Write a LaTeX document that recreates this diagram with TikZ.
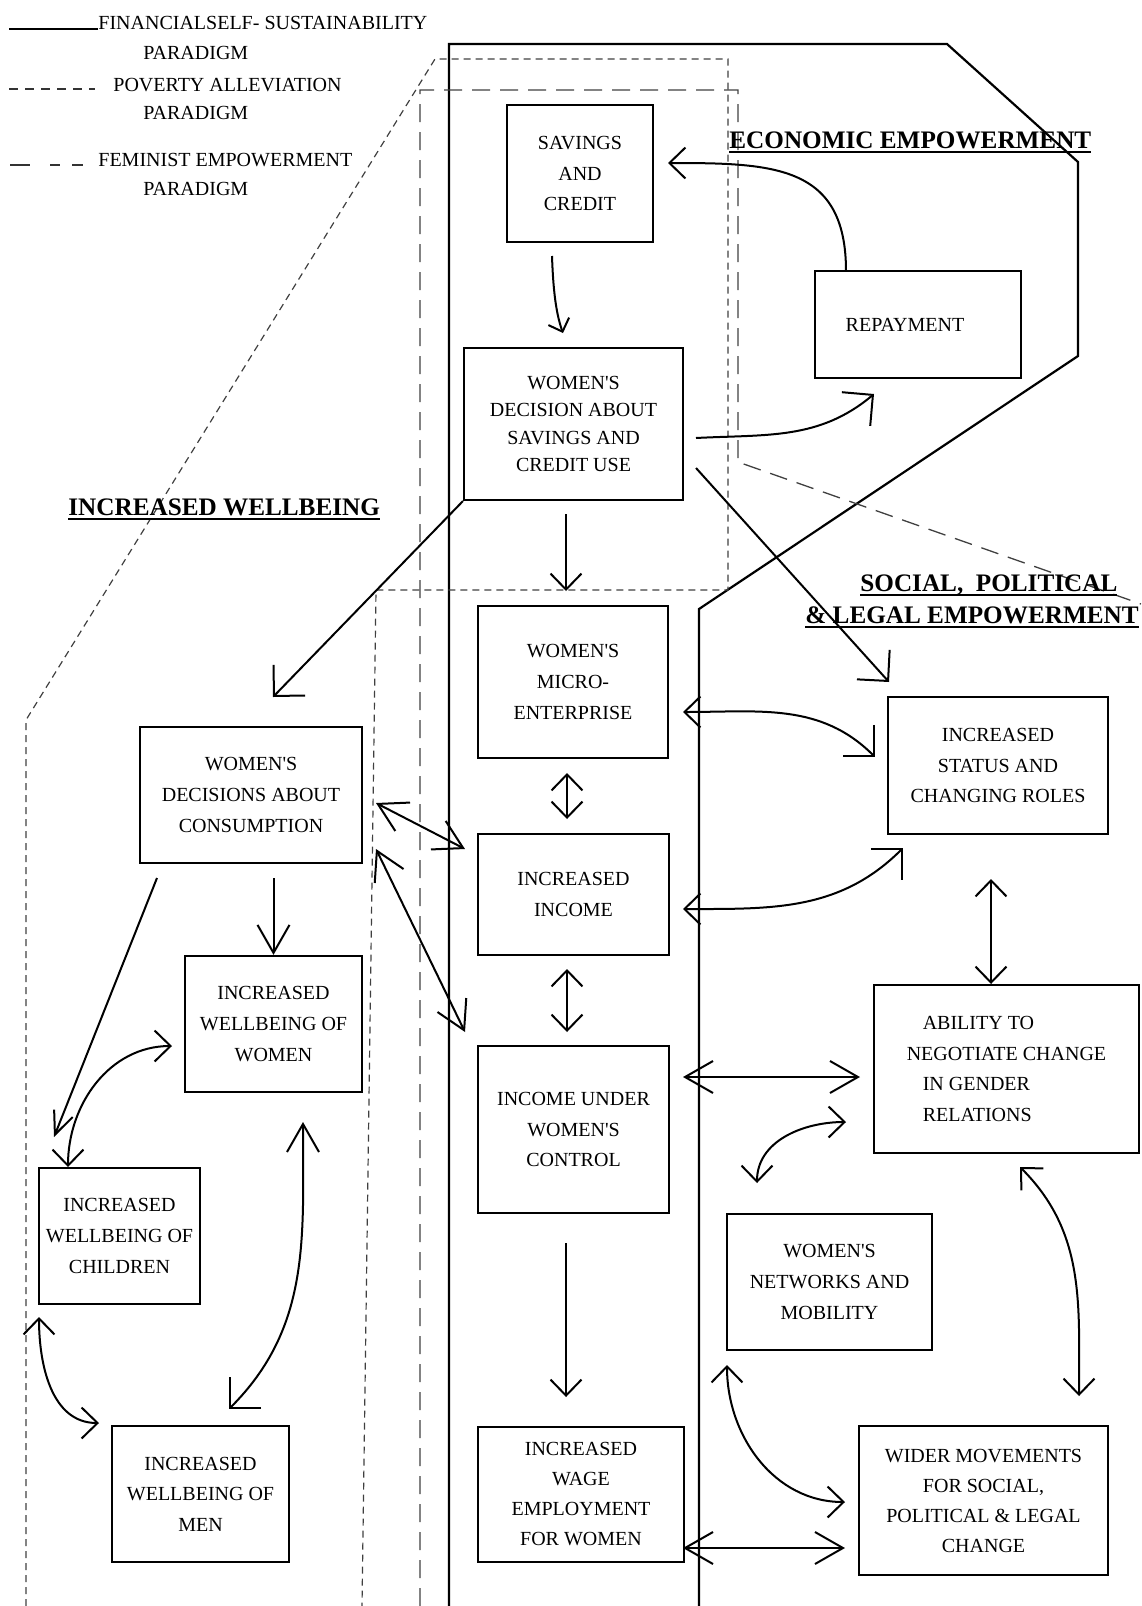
\documentclass[tikz,border=0pt]{standalone}
\usepackage{fontspec}
\setmainfont{Liberation Serif}
\newfontfamily\pf{Liberation Serif}
\usetikzlibrary{arrows.meta}
\newcommand\hul[1]{\setbox0\hbox{#1}\rlap{\rule[-2.7pt]{\wd0}{1.25pt}}\box0}
\tikzset{
  hS/.tip={Straight Barb[length=8pt,width=15.5pt]},
  hT/.tip={Straight Barb[length=5.5pt,width=11pt]},
  hB/.tip={Straight Barb[length=11pt,width=22pt]},
  hH/.tip={Straight Barb[length=14pt,width=16pt]},
  hN/.tip={Straight Barb[length=11.5pt,width=10pt]},
  box/.style={draw,line width=1.1pt,align=center,inner sep=0pt,font=\pf\fontsize{10}{15.3}\selectfont},
  txt/.style={inner sep=0pt,anchor=base west,font=\pf\fontsize{10}{12}\selectfont},
  head/.style={inner sep=0pt,anchor=base west,font=\pf\fontsize{12.6}{15}\selectfont\bfseries},
  con/.style={line width=1pt},
  fin/.style={line width=1.1pt},
  pov/.style={line width=0.6pt,draw=black!75,dash pattern=on 3.5pt off 2.5pt},
  fem/.style={line width=0.65pt,draw=black!75,dash pattern=on 9pt off 5pt},
}
\begin{document}
\begin{tikzpicture}[x=0.5pt,y=0.5pt]
\useasboundingbox (0,0) rectangle (1141,-1606);

% ---------- legend ----------
\node[txt] (l1) at (98,-29) {FINANCIALSELF- SUSTAINABILITY};
\node[txt] (l1b) at (143,-59) {PARADIGM};
\node[txt] (l2) at (113,-91) {POVERTY ALLEVIATION};
\node[txt] (l2b) at (143,-119) {PARADIGM};
\node[txt] (l3) at (98,-166) {FEMINIST EMPOWERMENT};
\node[txt] (l3b) at (143,-195) {PARADIGM};
\coordinate (g1a) at (9,-29);  \coordinate (g1b) at (98,-29);
\coordinate (g2a) at (9,-89);  \coordinate (g2b) at (95,-89);
\coordinate (g3a) at (10,-165); \coordinate (g3b) at (83,-165);
\draw[con] (g1a) -- (g1b);
\draw[line width=0.65pt,draw=black!80,dash pattern=on 4.5pt off 3.5pt] (g2a) -- (g2b);
\draw[line width=0.65pt,draw=black!80,dash pattern=on 10pt off 10pt on 5pt off 6pt on 5.5pt off 20pt] (g3a) -- (g3b);

% ---------- paradigm outlines ----------
\draw[fin] (449,-1606) -- (449,-44) -- (947,-44) -- (1078,-162) -- (1078,-356) -- (699,-609) -- (699,-1606);
\draw[pov] (26,-1606) -- (26,-720) -- (435,-59) -- (728,-59) -- (728,-590) -- (376,-590) -- (362,-1606);
\draw[fem] (420,-1606) -- (420,-90) -- (738,-90) -- (738,-462) -- (1141,-604);

% ---------- headings ----------
\node[head] (h1) at (729,-148) {\hul{ECONOMIC EMPOWERMENT}};
\node[head] (h2) at (68,-515) {\hul{INCREASED WELLBEING}};
\node[head] (h3) at (860,-591) {\hul{SOCIAL,\ \ POLITICAL}};
\node[head] (h4) at (805,-623) {\hul{\& LEGAL EMPOWERMENT}};

% ---------- boxes ----------
\node[box,minimum width=73pt,minimum height=68.5pt] (sav) at (580,-173.5) {SAVINGS\\AND\\CREDIT};
\node[box,minimum width=103pt,minimum height=53.5pt] (rep) at (918,-324.5) {REPAYMENT\kern13pt};
\node[box,minimum width=109.5pt,minimum height=76pt,font=\pf\fontsize{10}{13.8}\selectfont] (dec) at (573.5,-424) {WOMEN'S\\DECISION ABOUT\\SAVINGS AND\\CREDIT USE};
\node[box,minimum width=95pt,minimum height=76pt] (mic) at (573,-682) {WOMEN'S\\MICRO-\\ENTERPRISE};
\node[box,minimum width=95.5pt,minimum height=60.5pt] (inc) at (573.5,-894.5) {INCREASED\\INCOME};
\node[box,minimum width=95.5pt,minimum height=83.5pt] (iuc) at (573.5,-1129.5) {INCOME UNDER\\WOMEN'S\\CONTROL};
\node[box,minimum width=103pt,minimum height=67.5pt,font=\pf\fontsize{10}{15}\selectfont] (wag) at (581,-1494.5) {INCREASED\\WAGE\\EMPLOYMENT\\FOR WOMEN};
\node[box,minimum width=111pt,minimum height=68pt] (con) at (251,-795) {WOMEN'S\\DECISIONS ABOUT\\CONSUMPTION};
\node[box,minimum width=88.5pt,minimum height=68pt] (wom) at (273.5,-1024) {INCREASED\\WELLBEING OF\\WOMEN};
\node[box,minimum width=80.5pt,minimum height=68pt] (chi) at (119.5,-1236) {INCREASED\\WELLBEING OF\\CHILDREN};
\node[box,minimum width=88.5pt,minimum height=68pt] (men) at (200.5,-1494) {INCREASED\\WELLBEING OF\\MEN};
\node[box,minimum width=110pt,minimum height=68.5pt] (sta) at (998,-765.5) {INCREASED\\STATUS AND\\CHANGING ROLES};
\node[box,minimum width=132.5pt,minimum height=84pt,align=left,font=\pf\fontsize{10}{15.2}\selectfont] (abi) at (1006.5,-1069) {\hspace*{8pt}ABILITY TO\\NEGOTIATE CHANGE\\\hspace*{8pt}IN GENDER\\\hspace*{8pt}RELATIONS};
\node[box,minimum width=102.5pt,minimum height=68pt] (net) at (829.5,-1282) {WOMEN'S\\NETWORKS AND\\MOBILITY};
\node[box,minimum width=124.5pt,minimum height=74.5pt,font=\pf\fontsize{10}{15}\selectfont] (wid) at (983.5,-1500.5) {WIDER MOVEMENTS\\FOR SOCIAL,\\POLITICAL \& LEGAL\\CHANGE};

% ---------- connector end points ----------
\coordinate (a1s) at (846,-271);  \coordinate (a1e) at (668,-163);
\coordinate (a2s) at (552,-256);  \coordinate (a2e) at (563,-333);
\coordinate (a3s) at (696,-438);  \coordinate (a3e) at (874,-394);
\coordinate (a4s) at (566,-514);  \coordinate (a4e) at (566,-591);
\coordinate (a5e) at (273,-697);
\coordinate (a6s) at (696,-468);  \coordinate (a6e) at (889,-682);
\coordinate (a7s) at (683,-712);  \coordinate (a7e) at (875,-757);
\coordinate (a8s) at (683,-909);  \coordinate (a8e) at (903,-848);
\coordinate (a9s) at (567,-773);  \coordinate (a9e) at (567,-819);
\coordinate (a10s) at (567,-969); \coordinate (a10e) at (567,-1032);
\coordinate (a11s) at (376,-803); \coordinate (a11e) at (465,-849);
\coordinate (a12s) at (376,-849); \coordinate (a12e) at (465,-1032);
\coordinate (a13s) at (273.5,-878);
\coordinate (a14s) at (157,-878); \coordinate (a14e) at (54,-1137);
\coordinate (a15s) at (68,-1167); \coordinate (a15e) at (172,-1046);
\coordinate (a16s) at (303,-1122); \coordinate (a16e) at (229,-1409);
\coordinate (a17s) at (39,-1317); \coordinate (a17e) at (99,-1423);
\coordinate (a18s) at (566,-1243); \coordinate (a18e) at (566,-1397);
\coordinate (a19s) at (683,-1548); \coordinate (a19e) at (845,-1548);
\coordinate (a20s) at (727,-1365); \coordinate (a20e) at (845,-1502);
\coordinate (a21s) at (757,-1183); \coordinate (a21e) at (846,-1122);
\coordinate (a22s) at (683,-1077); \coordinate (a22e) at (860,-1077);
\coordinate (a23s) at (991,-879);  \coordinate (a23e) at (991,-984);
\coordinate (a24s) at (1020,-1167); \coordinate (a24e) at (1079,-1396);

% ---------- connectors ----------
\draw[con,-hS] (a1s) to[out=90,in=0,looseness=1.3] (a1e);
\draw[con,-hT] (a2s) to[out=-88,in=110,looseness=0.8] (a2e);
\draw[con,-hB] (a3s) to[out=3,in=220] (a3e);
\draw[con,-hS] (a4s) -- (a4e);
\draw[con,-hB] (dec.south west) -- (a5e);
\draw[con,-hB] (a6s) -- (a6e);
\draw[con,hS-hB] (a7s) to[out=0,in=135] (a7e);
\draw[con,hS-hB] (a8s) to[out=0,in=225] (a8e);
\draw[con,hS-hS] (a9s) -- (a9e);
\draw[con,hS-hS] (a10s) -- (a10e);
\draw[con,hH-hH] (a11s) -- (a11e);
\draw[con,hH-hH] (a12s) -- (a12e);
\draw[con,-hH] (a13s) -- (wom.north);
\draw[con,-hN] (a14s) -- (a14e);
\draw[con,hS-hS] (a15s) to[out=90,in=180] (a15e);
\draw[con,hH-hB] (a16s) to[out=-90,in=45] (a16e);
\draw[con,hS-hS] (a17s) to[out=-90,in=180] (a17e);
\draw[con,-hS] (a18s) -- (a18e);
\draw[con,hH-hH] (a19s) -- (a19e);
\draw[con,hS-hS] (a20s) to[out=-90,in=180] (a20e);
\draw[con,hS-hS] (a21s) to[out=90,in=180] (a21e);
\draw[con,hH-hH] (a22s) -- (a22e);
\draw[con,hS-hS] (a23s) -- (a23e);
\draw[con,hS-hS] (a24s) to[out=-45,in=90] (a24e);
\end{tikzpicture}
\end{document}
